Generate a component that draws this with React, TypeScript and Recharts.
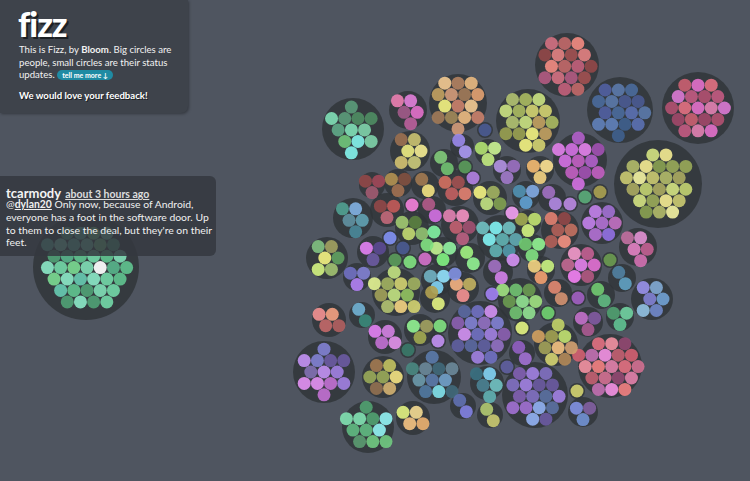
import React from 'react';
import { ScatterChart, Scatter, XAxis, YAxis } from 'recharts';

// people: [x, y, radius, number of status updates, palette]
// x/y/radius are in chart units (the chart is 750 x 481 units)
type Person = [number, number, number, number, string];

const bigPeople: Person[] = [
  [86, 267, 53, 38, '#7fdcb4 #5fc28e #72d6a6 #4f9f74 #8ae6c4 #66c9b0 #7ad890 #57b38a'],
  [353, 129, 31, 12, '#7fdcb4 #5a9a78 #4e8c62 #7ed0a8 #82f0e8 #6fc37a #5ea887'],
  [458, 103, 29, 15, '#c8806a #d09a78 #a07a58 #f0c890 #e8b880 #a08858 #f0f080 #c0a060 #b08060 #e0a070'],
  [567, 65, 32, 17, '#c06868 #e08080 #a05050 #c0607a #b05a80 #d07080 #f08a80 #904848'],
  [620, 110, 33, 16, '#4a6a9a #5a78a8 #4a5a90 #5a70b0 #3f5f8c #6080b8 #5060a0'],
  [698, 108, 36, 19, '#e070c8 #c05a80 #b05070 #e080b0 #a04868 #c86070 #e07080 #d878d0'],
  [528, 121, 32, 17, '#c8e080 #a8b860 #d0d070 #c0a060 #f0f080 #98a050 #b0c070'],
  [580, 160, 27, 12, '#c060c0 #d070e0 #e080e8 #b060c8 #a050b0'],
  [658, 184, 44, 24, '#a8a860 #c8c870 #b0b868 #d0e080 #f0e890 #98a858 #c0d070 #f0f0a0 #88a050'],
  [396, 292, 24, 11, '#c0e080 #a0b060 #d0d070 #90c060 #f0d080 #b0c070 #a0a058 #e0f090'],
  [480, 333, 32, 17, '#7070c0 #8080d0 #9070c0 #a080e0 #6060a0 #5a68a0 #d090f0 #8a60b0'],
  [324, 372, 31, 13, '#c090f0 #8080d0 #6a5aa0 #a080e0 #c070d0 #e090f0 #8070b0'],
  [434, 377, 27, 11, '#5a7aa8 #6a8898 #406878 #70a0c8 #80e0e8 #5078a0 #6a98a8 #4a8880'],
  [368, 427, 26, 11, '#60b880 #80e0b0 #50a070 #90f0f0 #70c880 #5a9a70'],
  [535, 395, 33, 17, '#8070c0 #a080e0 #6a5aa0 #5a70a0 #90b0f0 #a070d0 #8060b0'],
  [610, 366, 32, 20, '#e080a8 #f090e0 #c06070 #e07080 #904870 #d07090 #f08080 #c070b0 #f090a0 #d06070'],
  [556, 344, 22, 9, '#f0c080 #a0a050 #c0e070 #d0a070 #b08858 #d0d070 #a0a058 #d0a060 #c0d068'],
];

const mediumPeople: Person[] = [
  [408, 110, 19, 5, '#a05a88 #e87fb0 #e07fd8 #e070c8 #b8609a'],
  [410, 151, 20, 6, '#e8e880 #9a7050 #c8c070 #f0e890 #c8c878 #d0c070'],
  [488, 152, 13, 3, '#c0e880 #b0e070 #c8f090'],
  [507, 170, 14, 3, '#a07ac8 #b090e0 #9a70c0'],
  [540, 170, 14, 3, '#f0d080 #f0b870 #f8e090'],
  [372, 185, 13, 3, '#a05a70 #904848 #a04858'],
  [398, 183, 14, 3, '#a07050 #b09050 #805040'],
  [455, 188, 18, 4, '#c06060 #d07060 #a05050 #e08070'],
  [490, 198, 17, 4, '#c0e080 #f0f080 #a0b060 #80a050'],
  [387, 210, 17, 3, '#c06878 #904848 #c05a58'],
  [460, 225, 19, 5, '#c06070 #e080b0 #f090c0 #a05070 #b86080'],
  [353, 218, 20, 5, '#6090a0 #50a090 #80b0e0 #60a0b0 #4a8898'],
  [412, 228, 17, 4, '#c0d870 #a0c870 #5a8040 #90c070'],
  [500, 238, 23, 8, '#60b0b0 #80f0f0 #70c0c0 #60a8b0 #5098a8'],
  [327, 258, 21, 6, '#f0f080 #80c080 #a0a060 #60a060 #a0c070 #d0f080'],
  [373, 252, 16, 3, '#6a5aa0 #e080f0 #5a4a90'],
  [443, 252, 15, 3, '#80f080 #c0f090 #90f0a0'],
  [357, 277, 14, 3, '#b080f0 #7070c0 #8080d0'],
  [463, 288, 16, 3, '#f09090 #f0b080 #c0b060'],
  [437, 280, 16, 3, '#80d0f0 #70b0c0 #90e0f8'],
  [526, 195, 14, 3, '#60a0d0 #5090b0 #80a8e0'],
  [602, 223, 21, 7, '#b070d0 #c080e8 #a070d0 #c070c0 #9070e0'],
  [560, 230, 19, 6, '#b06058 #e08070 #904848 #c07060 #f09080'],
  [528, 223, 13, 3, '#d0f080 #a0a850 #c0e070'],
  [638, 247, 19, 5, '#e080c0 #c070a0 #e090d0 #c06090 #d070b0'],
  [581, 265, 21, 7, '#e080e8 #f098c8 #c06090 #e070d0 #b05880 #f080f0 #c06890'],
  [532, 248, 14, 3, '#80e080 #70c870 #90f090'],
  [541, 270, 14, 3, '#f0a070 #f0d080 #c8f080'],
  [652, 299, 21, 6, '#8080d0 #9890e8 #80a8d0 #70a0d0 #7088c8 #90c0e0'],
  [520, 300, 22, 8, '#90e090 #70c070 #6a9a50 #a0e080'],
  [588, 322, 15, 3, '#a85a90 #c070c8 #805aa0'],
  [620, 317, 14, 3, '#60c090 #50a070 #70d0a0'],
  [583, 412, 15, 3, '#7090d0 #8090e0 #8060a0'],
  [329, 320, 17, 4, '#c06868 #f09090 #f0a080 #b06060'],
  [385, 337, 17, 4, '#c070d0 #e080f0 #d080e0 #e090e8'],
  [420, 330, 16, 3, '#a0a850 #90f090 #a0a060'],
  [383, 377, 21, 7, '#98a858 #a07850 #c0c060 #f0e080 #d0b070 #907050'],
  [487, 383, 17, 5, '#4a8090 #3a7080 #80d0f0 #70c0c0 #60b0b0'],
  [413, 418, 17, 4, '#f0c080 #e0f080 #f0d890 #e8b070'],
];

const smallPeople: Person[] = [
  [485, 130, 8, 1, '#4a5a90'],
  [462, 146, 12, 2, '#a898f0 #9888e8'],
  [444, 163, 14, 2, '#70c070 #80c878'],
  [465, 167, 8, 1, '#5a9a5a'],
  [425, 185, 14, 2, '#f0e080 #a07850'],
  [473, 178, 8, 1, '#b080e0'],
  [412, 205, 8, 1, '#f080d8'],
  [432, 210, 14, 2, '#d070e0 #b05a88'],
  [434, 232, 8, 1, '#80f0a0'],
  [512, 213, 8, 1, '#f0a0f0'],
  [390, 238, 8, 1, '#8090f0'],
  [403, 248, 8, 1, '#4a5a90'],
  [427, 245, 8, 1, '#80e080'],
  [395, 260, 8, 1, '#5a9a5a'],
  [410, 262, 8, 1, '#80e080'],
  [425, 259, 8, 1, '#d070c8'],
  [470, 258, 15, 2, '#90f090 #a0f080'],
  [498, 272, 15, 2, '#d080e8 #a070c0'],
  [513, 260, 8, 1, '#d090f0'],
  [455, 274, 8, 1, '#8090e0'],
  [435, 298, 15, 2, '#e0f080 #b0a050'],
  [492, 294, 8, 1, '#a080f0'],
  [552, 198, 14, 2, '#b088e0 #a070c0'],
  [570, 204, 8, 1, '#b888e0'],
  [585, 197, 8, 1, '#5aaa78'],
  [600, 192, 8, 1, '#a8a050'],
  [610, 260, 8, 1, '#6a9a50'],
  [622, 278, 14, 2, '#60a0c0 #5080a0'],
  [558, 293, 14, 2, '#d09070 #e08870'],
  [578, 298, 8, 1, '#a060c0'],
  [601, 295, 14, 2, '#60b880 #70c870'],
  [548, 313, 8, 1, '#70d070'],
  [522, 328, 8, 1, '#e0f080'],
  [522, 353, 13, 2, '#a070d0 #9060c0'],
  [577, 391, 8, 1, '#d0d070'],
  [362, 315, 13, 2, '#3a8878 #70b0d0'],
  [440, 326, 8, 1, '#80e080'],
  [438, 341, 8, 1, '#c090f0'],
  [408, 350, 8, 1, '#3a7868'],
  [507, 367, 8, 1, '#6060a0'],
  [463, 406, 13, 2, '#8080e0 #6070b0'],
  [490, 415, 13, 2, '#c8c870 #b0c870'],
];

// the status update that is open in the side panel
const selectedUpdate = { x: 97, y: 268 };

const BG = '#4f5560';
const PERSON_FILL = '#2f3438';
const UPDATE_R = 6.5;
const GAP = 13.2;

// hex lattice offsets, nearest first, used to pack updates inside a person
const lattice = (() => {
  const pts: { x: number; y: number; d: number; a: number }[] = [];
  for (let i = -7; i <= 7; i++) {
    for (let j = -7; j <= 7; j++) {
      const x = (i + j / 2) * GAP;
      const y = (j * GAP * Math.sqrt(3)) / 2;
      pts.push({ x, y, d: Math.round(Math.hypot(x, y) * 100), a: Math.atan2(y, x) });
    }
  }
  pts.sort((p, q) => p.d - q.d || p.a - q.a);
  return pts;
})();

const allPeople = [...bigPeople, ...mediumPeople, ...smallPeople];

const peopleData = allPeople.map(([x, y, r]) => ({ x, y, r }));

const updatesData = (() => {
  const out: { x: number; y: number; fill: string }[] = [];
  allPeople.forEach(([x, y, , n, palette]) => {
    const colors = palette.split(' ');
    const pts = lattice.slice(0, n);
    const mx = pts.reduce((s, p) => s + p.x, 0) / n;
    const my = pts.reduce((s, p) => s + p.y, 0) / n;
    pts.forEach((p, i) => {
      out.push({ x: x + p.x - mx, y: y + p.y - my, fill: colors[i % colors.length] });
    });
  });
  // mark the update nearest to the selected one
  let best = 0;
  let bestD = Infinity;
  out.forEach((u, i) => {
    const d = Math.hypot(u.x - selectedUpdate.x, u.y - selectedUpdate.y);
    if (d < bestD) {
      bestD = d;
      best = i;
    }
  });
  out[best] = { ...out[best], fill: '#ffffff' };
  return out;
})();

const PersonShape = (props: any) => (
  <circle cx={props.cx} cy={props.cy} r={props.payload.r} fill={PERSON_FILL} fillOpacity={0.82} />
);

const UpdateShape = (props: any) => (
  <circle cx={props.cx} cy={props.cy} r={UPDATE_R} fill={props.payload.fill} fillOpacity={0.92} />
);

const font = 'Lato, "Open Sans", sans-serif';

export default function App() {
  return (
    <div style={{ position: 'absolute', left: 0, top: 0, width: 750, height: 481, background: BG, overflow: 'hidden', fontFamily: font }}>
      <ScatterChart width={750} height={481} margin={{ top: 0, right: 0, bottom: 0, left: 0 }}>
        <XAxis type="number" dataKey="x" domain={[0, 750]} allowDataOverflow hide />
        <YAxis type="number" dataKey="y" domain={[0, 481]} allowDataOverflow reversed hide />
        <Scatter data={peopleData} shape={PersonShape} isAnimationActive={false} />
        <Scatter data={updatesData} shape={UpdateShape} isAnimationActive={false} />
      </ScatterChart>

      <div style={{ position: 'absolute', left: 0, top: 0, width: 188, height: 113, background: '#3e434b', borderBottomRightRadius: 7, boxShadow: '1px 1px 3px rgba(0,0,0,0.35)' }}>
        <div style={{ position: 'absolute', left: 18, top: 3, fontSize: 34, fontWeight: 900, color: '#fff', letterSpacing: -1, textShadow: '2px 2px 0 #1c2024' }}>fizz</div>
        <div style={{ position: 'absolute', left: 19, top: 44, width: 166, fontSize: 9.6, lineHeight: '12.5px', color: '#f2f2f2' }}>
          This is Fizz, by <b>Bloom</b>. Big circles are people, small circles are their status updates.{' '}
          <span style={{ background: '#1f8ba3', color: '#fff', borderRadius: 6, padding: '1px 5px', fontSize: 7, fontWeight: 700 }}>tell me more ↓</span>
        </div>
        <div style={{ position: 'absolute', left: 19, top: 90, fontSize: 9.6, fontWeight: 700, color: '#fff', textShadow: '1px 1px 0 #1c2024' }}>We would love your feedback!</div>
      </div>

      <div style={{ position: 'absolute', left: 0, top: 176, width: 216, height: 80, background: 'rgba(52,56,63,0.84)', borderRadius: '0 6px 6px 0' }}>
        <div style={{ position: 'absolute', left: 6, top: 6, color: '#f4f4f4', whiteSpace: 'nowrap' }}>
          <span style={{ fontSize: 13, fontWeight: 700 }}>tcarmody</span>{' '}
          <span style={{ fontSize: 10.5, fontWeight: 700, textDecoration: 'underline', color: '#dcdcdc' }}>about 3 hours ago</span>
        </div>
        <div style={{ position: 'absolute', left: 6, top: 22, width: 210, fontSize: 10.4, lineHeight: '12.8px', color: '#f0f0f0' }}>
          @<b style={{ textDecoration: 'underline' }}>dylan20</b> Only now, because of Android, everyone has a foot in the software door. Up to them to close the deal, but they're on their feet.
        </div>
      </div>
    </div>
  );
}
